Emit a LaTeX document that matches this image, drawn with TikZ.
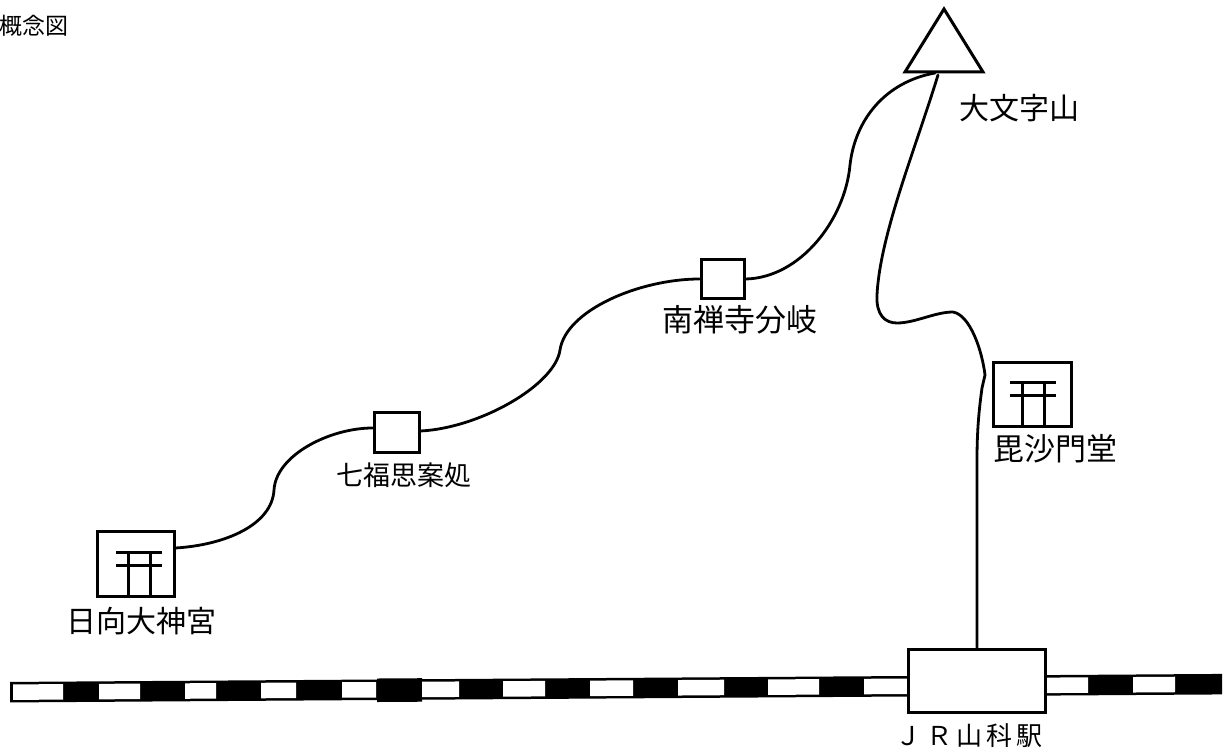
\documentclass[tikz,border=0pt]{standalone}
\usepackage{fontspec}
\newfontfamily\cjk{Noto Sans CJK JP}
\tikzset{
  route/.style={draw=black,line width=2.8pt,line cap=round},
  boxnode/.style={draw=black,line width=3pt,fill=white,minimum width=#1,inner sep=0pt},
  lab/.style={font=\cjk\fontsize{30}{32}\selectfont,inner sep=0pt,text=black},
  torii/.pic={
    \draw[line width=3pt] (-23,-13) -- (23,-13) (-23,0) -- (23,0) (-11,-13) -- (-11,31) (11,-13) -- (11,31);
  }
}
\begin{document}
\begin{tikzpicture}[x=1pt,y=-1pt]
\useasboundingbox (0,0) rectangle (1226,749);
\begin{scope}[yslant=0.0066]
  \fill[black] (10,682) rectangle (1222,702.5);
  \fill[black] (377,681) rectangle (422,704.5);
  \foreach \a/\b in {13/63,99/140,185/216,261/296,342/376,422/459,503/545,590/633,678/724,768/819,864/908,1046/1088,1133/1175}
    \fill[white] (\a,684.5) rectangle (\b,700);
\end{scope}
\node[boxnode=137pt,minimum height=63pt] (station) at (976.5,680.5) {};
\node[boxnode=77pt,minimum height=65pt] (shrineA) at (135.5,563.5) {};
\pic at (139,565) {torii};
\node[boxnode=78pt,minimum height=64pt] (shrineB) at (1032,394) {};
\pic at (1033,395) {torii};
\node[boxnode=45pt,minimum height=40pt] (restA) at (396.5,432) {};
\node[boxnode=43pt,minimum height=39pt] (restB) at (722.5,278.5) {};
\coordinate (peak) at (944,9);
\coordinate (baseL) at (905,72);
\coordinate (baseR) at (983,72);
\coordinate (joinA) at (935,73);
\coordinate (joinB) at (938,75);
\draw[line width=3pt,line join=miter] (peak) -- (baseL) -- (baseR) -- cycle;
\draw[route] (shrineA.east |- 0,548) .. controls (225,545) and (272,525) .. (274,490)
  .. controls (276,455) and (330,428) .. (restA.west |- 0,428);
\draw[route] (restA.east |- 0,431) .. controls (480,428) and (555,385) .. (560,350)
  .. controls (566,310) and (640,279) .. (restB.west |- 0,279);
\draw[route] (restB.east |- 0,279) .. controls (800,278) and (845,220) .. (850,165)
  .. controls (855,120) and (885,82) .. (joinA);
\draw[route] (joinB) .. controls (915,150) and (880,235) .. (877,295)
  .. controls (876,315) and (885,323) .. (897,323)
  .. controls (915,323) and (935,312) .. (953,312)
  .. controls (970,315) and (982,350) .. (985,375)
  -- (982,388) .. controls (979,410) and (977,430) .. (977,460) -- (station.north -| 977,0);
\node[lab] (tA) at (1019,108) {大文字山};
\node[lab,font=\cjk\fontsize{31}{33}\selectfont] (tB) at (739.5,320) {南禅寺分岐};
\node[lab,font=\cjk\fontsize{27}{29}\selectfont] (tC) at (404,475) {七福思案処};
\node[lab] (tD) at (141,621) {日向大神宮};
\node[lab,font=\cjk\fontsize{31}{33}\selectfont] (tE) at (1055,449) {毘沙門堂};
\node[lab,font=\cjk\fontsize{26}{28}\selectfont\addfontfeature{LetterSpace=15}] (tF) at (969,735.5) {Ｊ\,Ｒ\,山科駅};
\node[lab,font=\cjk\fontsize{23}{25}\selectfont] (tG) at (34,26) {概念図};
\end{tikzpicture}
\end{document}
